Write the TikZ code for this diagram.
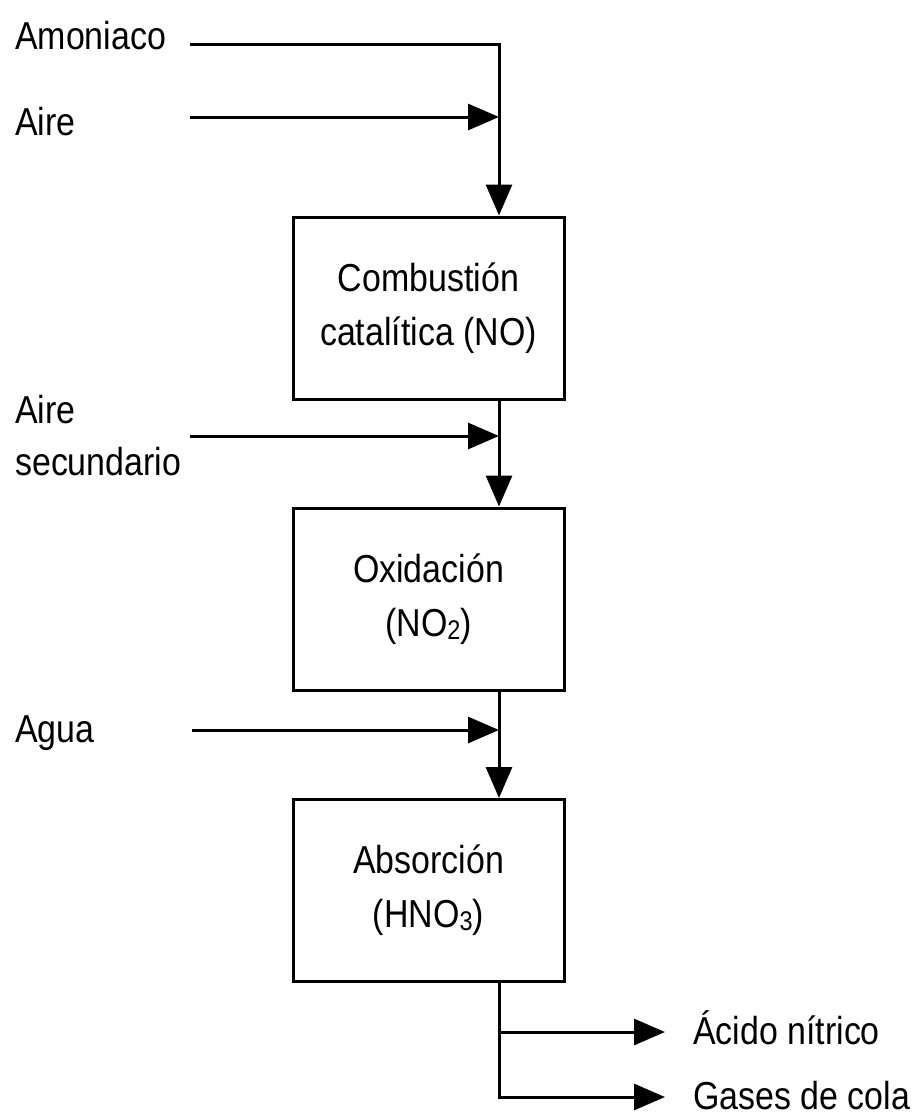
\documentclass[tikz,border=0pt]{standalone}
\usepackage{fontspec}
\setmainfont[FakeStretch=0.87]{Liberation Sans}
\usetikzlibrary{arrows.meta}
\newcommand{\lowsub}[1]{\raisebox{-3pt}{\fontsize{27}{27}\selectfont #1}}
\begin{document}
\begin{tikzpicture}[x=1pt,y=-1pt,
  flow/.style={line width=3pt,-{Triangle[length=31pt,width=26pt]}},
  box/.style={draw,line width=3pt,minimum width=271pt,minimum height=182pt,
    align=center,inner sep=0pt,font=\fontsize{39}{54}\selectfont},
  lbl/.style={anchor=base west,inner sep=0pt,font=\fontsize{39}{52}\selectfont}]
\useasboundingbox (0,0) rectangle (917,1114);
% boxes
\node[box] (c1) at (428.5,308) {Combustión\\catalítica (NO)};
\node[box] (c2) at (428.5,599) {Oxidación\\(NO\lowsub{2})};
\node[box] (c3) at (428.5,890.5) {Absorción\\(HNO\lowsub{3})};
% labels
\node[lbl] (lam) at (15,49) {Amoniaco};
\node[lbl] (lai) at (15,135) {Aire};
\node[lbl] (las1) at (15,423) {Aire};
\node[lbl] (las2) at (15,475) {secundario};
\node[lbl] (lag) at (15,742) {Agua};
\node[lbl] (lac) at (693,1044) {Ácido nítrico};
\node[lbl] (lga) at (693,1109) {Gases de cola};
% coordinates
\coordinate (jx) at (499,0);
\coordinate (a0) at (190,44);
\coordinate (a1) at (190,117);
\coordinate (a2) at (190,436);
\coordinate (a3) at (192,730);
\coordinate (o1) at (665,1032);
\coordinate (o2) at (665,1097);
% connectors
\draw[flow] (a0) -| (c1.north -| jx);
\draw[flow] (a1) -- (a1 -| jx);
\draw[flow] (c1.south -| jx) -- (c2.north -| jx);
\draw[flow] (a2) -- (a2 -| jx);
\draw[flow] (c2.south -| jx) -- (c3.north -| jx);
\draw[flow] (a3) -- (a3 -| jx);
\draw[flow] (c3.south -| jx) |- (o1);
\draw[flow] (c3.south -| jx) |- (o2);
\end{tikzpicture}
\end{document}
